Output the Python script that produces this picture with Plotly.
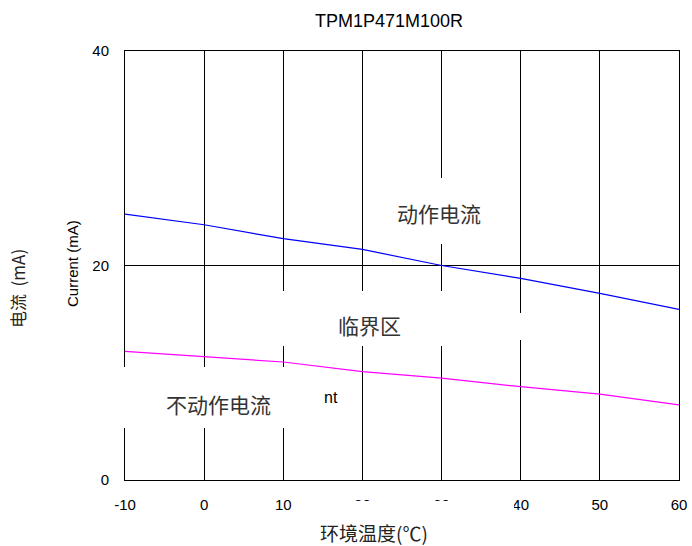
import plotly.graph_objects as go

# ---- data ----
temps = [-10, 0, 10, 20, 30, 40, 50, 60]
operate_current = [24.8, 23.8, 22.5, 21.5, 20.0, 18.8, 17.4, 15.9]
non_operate_current = [12.0, 11.5, 11.0, 10.1, 9.5, 8.7, 8.0, 7.0]
x_ticks = [-10, 0, 10, 20, 30, 40, 50, 60]
y_ticks = [0, 20, 40]

title_text = "TPM1P471M100R"
x_title = "环境温度(℃)"
y_title_en = "Current (mA)"
y_title_cn = "电流  (mA)"
region_labels = ["动作电流", "临界区", "不动作电流"]

W, H = 692, 546
L, R, T, B = 125, 679, 51, 480

def px(p):
    return (p - L) / (R - L)

def py(p):
    return (B - p) / (B - T)

LAT = "Liberation Sans, Arial, sans-serif"
CJK = "Noto Sans CJK SC, sans-serif"

fig = go.Figure()
fig.add_trace(go.Scatter(x=temps, y=operate_current, mode="lines",
                         line=dict(color="#0000FF", width=1.2), showlegend=False,
                         hoverinfo="skip"))
fig.add_trace(go.Scatter(x=temps, y=non_operate_current, mode="lines",
                         line=dict(color="#FF00FF", width=1.2), showlegend=False,
                         hoverinfo="skip"))

# white patches (erased regions in the reference)
patches = [
    (372, 178, 512, 244),   # 动作电流
    (270, 291, 516, 346),   # 临界区
    (516, 313, 526, 340),
    (112, 367, 300, 428),   # 不动作电流
    (300, 373, 352, 428),
    (340, 501, 514, 516),   # tick labels
]
shapes = []
for x0, y0, x1, y1 in patches:
    shapes.append(dict(type="rect", xref="paper", yref="paper",
                       x0=px(x0), x1=px(x1), y0=py(y1), y1=py(y0),
                       fillcolor="white", line=dict(width=0), layer="above"))

annotations = [
    dict(text=title_text, x=px(389), y=py(21), font=dict(family=LAT, size=18, color="black")),
    dict(text=x_title, x=px(374), y=py(532), font=dict(family=CJK, size=19, color="#222")),
    dict(text=y_title_en, x=px(72), y=py(264), textangle=-90, font=dict(family=LAT, size=15, color="black")),
    dict(text=y_title_cn, x=px(17), y=py(289), textangle=-90, font=dict(family=CJK, size=17, color="#222")),
    dict(text=region_labels[0], x=px(439), y=py(213), font=dict(family=CJK, size=21, color="#333")),
    dict(text=region_labels[1], x=px(369), y=py(325), font=dict(family=CJK, size=21, color="#333")),
    dict(text=region_labels[2], x=px(218), y=py(404), font=dict(family=CJK, size=21, color="#333")),
    dict(text="nt", x=px(331), y=py(397), font=dict(family=LAT, size=16, color="black")),
]
for a in annotations:
    a.update(xref="paper", yref="paper", showarrow=False, xanchor="center", yanchor="middle")

fig.update_layout(
    width=W, height=H, autosize=False,
    margin=dict(l=L, r=W - R, t=T, b=H - B, pad=0, autoexpand=False),
    plot_bgcolor="white", paper_bgcolor="white",
    shapes=shapes, annotations=annotations,
    xaxis=dict(range=[-10, 60], tickvals=x_ticks, ticktext=[str(v) for v in x_ticks],
               showgrid=True, gridcolor="black", gridwidth=1, zeroline=False,
               showline=True, mirror=True, linecolor="black", linewidth=1,
               ticks="", ticklabelstandoff=11, automargin=False,
               tickfont=dict(family=LAT, size=15, color="black")),
    yaxis=dict(range=[0, 40], tickvals=y_ticks, ticktext=[str(v) for v in y_ticks],
               showgrid=True, gridcolor="black", gridwidth=1, zeroline=False,
               showline=True, mirror=True, linecolor="black", linewidth=1,
               ticks="", ticklabelstandoff=12, automargin=False,
               tickfont=dict(family=LAT, size=15, color="black")),
)

fig.write_html("out.html",
               config={"displayModeBar": False, "responsive": False, "staticPlot": True},
               post_script="document.body.style.margin='0';document.body.style.overflow='hidden';")
